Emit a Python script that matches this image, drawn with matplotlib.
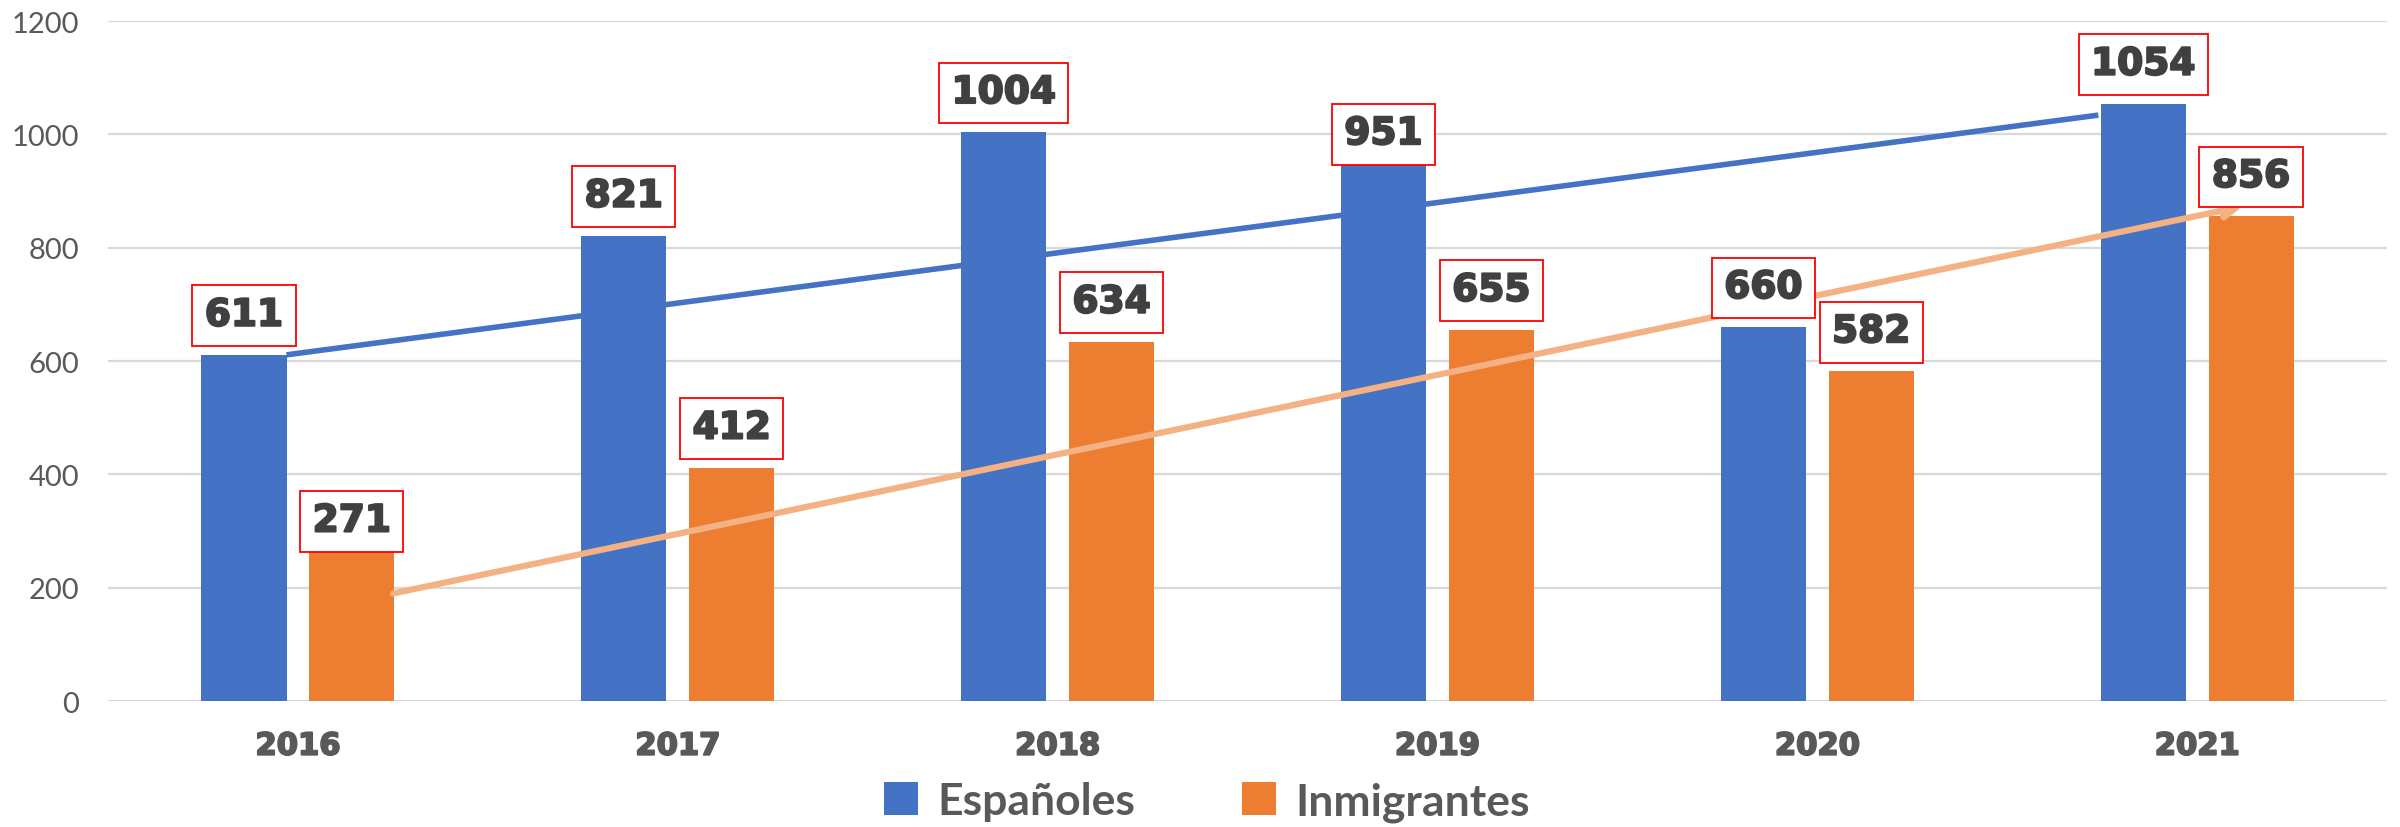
"""Españoles vs Inmigrantes: barras agrupadas por año con líneas de tendencia."""
import matplotlib.pyplot as plt
import matplotlib.patheffects as pe
import numpy as np

years = ["2016", "2017", "2018", "2019", "2020", "2021"]
espanoles = [611, 821, 1004, 951, 660, 1054]
inmigrantes = [271, 412, 634, 655, 582, 856]

# líneas dibujadas a mano sobre el gráfico (inicio, fin) en unidades de datos
trend_esp_x = [-0.03, 4.74]
trend_esp_y = [611, 1034]
trend_inm_x = [0.25, 5.12]
trend_inm_y = [190, 873]

BLUE = "#4472C4"
ORANGE = "#ED7D31"
LIGHT_ORANGE = "#F4B183"
GRID = "#D9D9D9"
TXT = "#595959"

# desplazamiento vertical (pt) de cada etiqueta sobre su barra
label_off_esp = [15.2, 15.2, 15.2, 7.2, 15.2, 15.2]
label_off_inm = [5.8, 15.2, 15.2, 15.2, 15.2, 15.2]


def main() -> None:
    fig = plt.figure(figsize=(24, 8.28), dpi=100)
    ax = fig.add_axes([0.045, 0.152, 0.9496, 0.8214])

    x = np.arange(len(years))
    w = 0.224
    off = 0.142
    ax.bar(x - off, espanoles, w, color=BLUE, label="Españoles", zorder=2)
    ax.bar(x + off, inmigrantes, w, color=ORANGE, label="Inmigrantes", zorder=2)

    ax.set_xlim(-0.5, len(years) - 0.5)
    ax.set_ylim(0, 1200)
    ax.set_yticks(np.arange(0, 1201, 200))
    ax.yaxis.grid(True, color=GRID, lw=1.6, zorder=0)
    ax.set_axisbelow(True)
    for s in ax.spines.values():
        s.set_visible(False)
    ax.tick_params(axis="both", length=0)
    ax.tick_params(axis="y", pad=21, labelsize=21, labelcolor=TXT)
    for t in ax.get_yticklabels():
        t.set_family("Lato")

    heavy = [pe.withStroke(linewidth=1.4, foreground=TXT)]
    ax.set_xticks(x)
    ax.set_xticklabels(years, fontsize=22, fontweight="bold", color=TXT,
                       family="DejaVu Sans", path_effects=heavy)
    ax.tick_params(axis="x", pad=22)

    # líneas de tendencia
    ax.plot(trend_esp_x, trend_esp_y, color=BLUE, lw=4, zorder=3,
            solid_capstyle="butt")
    ax.annotate("", xy=(trend_inm_x[1], trend_inm_y[1]),
                xytext=(trend_inm_x[0], trend_inm_y[0]),
                arrowprops=dict(arrowstyle="-|>,head_length=1.0,head_width=0.5",
                                color=LIGHT_ORANGE, lw=4.5,
                                shrinkA=0, shrinkB=0), zorder=3)

    # etiquetas con recuadro rojo
    box = dict(boxstyle="square,pad=0.33", fc="white", ec="red", lw=1.3)
    dark = [pe.withStroke(linewidth=1.5, foreground="#404040")]
    for xs, vals, offs in ((x - off, espanoles, label_off_esp),
                           (x + off, inmigrantes, label_off_inm)):
        for xi, v, o in zip(xs, vals, offs):
            ax.annotate(f"{v}", (xi, v), xytext=(0, o), textcoords="offset points",
                        ha="center", va="bottom", fontsize=27, fontweight="bold",
                        color="#404040", bbox=box, zorder=4, path_effects=dark)

    fig.legend(loc="center", bbox_to_anchor=(0.503, 0.031), ncol=2, frameon=False,
               prop=dict(family="Lato", size=32, weight="bold"), labelcolor=TXT,
               handlelength=0.75, handleheight=0.75, handletextpad=0.45,
               columnspacing=2.4, borderpad=0)

    fig.savefig("out.png", dpi=100, facecolor="white")
    plt.close(fig)


if __name__ == "__main__":
    main()
